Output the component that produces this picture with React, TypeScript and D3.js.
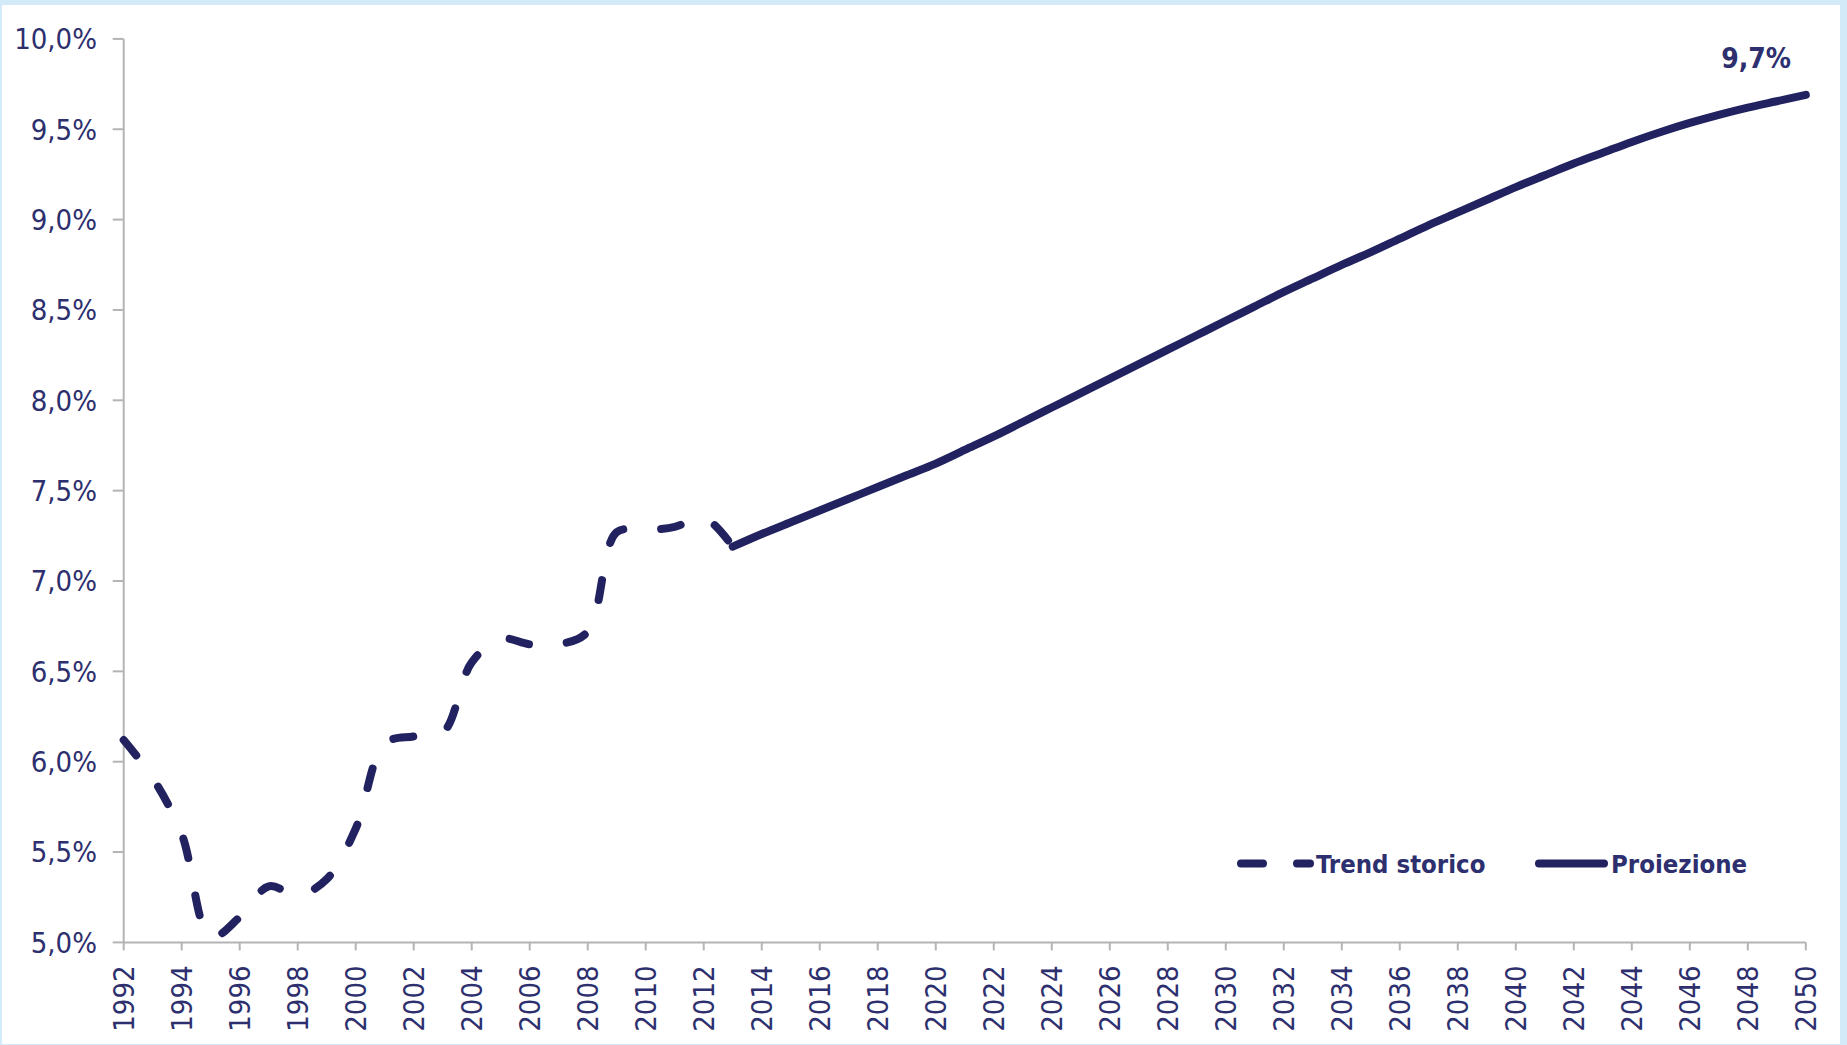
import React from "react";
import * as d3 from "d3";

const histYears = [1992,1993,1994,1995,1996,1997,1998,1999,2000,2001,2002,2003,2004,2005,2006,2007,2008,2009,2010,2011,2012,2013];
const histValues = [6.12,5.91,5.60,5.03,5.14,5.31,5.26,5.35,5.63,6.10,6.14,6.16,6.55,6.68,6.65,6.65,6.72,7.27,7.28,7.30,7.35,7.19];

const projYears = [2013,2014,2015,2016,2017,2018,2019,2020,2021,2022,2023,2024,2025,2026,2027,2028,2029,2030,2031,2032,2033,2034,2035,2036,2037,2038,2039,2040,2041,2042,2043,2044,2045,2046,2047,2048,2049,2050];
const projValues = [7.19,7.26,7.325,7.39,7.455,7.52,7.585,7.65,7.725,7.80,7.88,7.96,8.04,8.12,8.20,8.28,8.36,8.44,8.52,8.60,8.675,8.75,8.82,8.895,8.97,9.04,9.11,9.18,9.245,9.31,9.37,9.43,9.485,9.535,9.58,9.62,9.655,9.69];

const yTicks = [5.0,5.5,6.0,6.5,7.0,7.5,8.0,8.5,9.0,9.5,10.0];
const xTicks = d3.range(1992, 2051, 2);
const legendLabels = ["Trend storico", "Proiezione"];
const endLabel = "9,7%";

const W = 1847, H = 1045;
const FONT = "'DejaVu Sans Condensed', 'DejaVu Sans', sans-serif";
const TEXT = "#2d2f6e";
const LINE = "#21225f";
const AXIS = "#b4b4b4";

export default function App() {
  const x = d3.scaleLinear().domain([1992, 2050]).range([123.7, 1805.8]);
  const y = d3.scaleLinear().domain([5, 10]).range([942.4, 38.9]);
  const line = d3.line<[number, number]>()
    .x(d => x(d[0])).y(d => y(d[1]))
    .curve(d3.curveCatmullRom.alpha(0.5));
  const hist = line(histYears.map((yr, i) => [yr, histValues[i]]) as [number, number][]) || "";
  const proj = line(projYears.map((yr, i) => [yr, projValues[i]]) as [number, number][]) || "";
  const fmt = (v: number) => v.toFixed(1).replace(".", ",") + "%";

  return (
    <svg width={W} height={H} style={{ position: "absolute", left: 0, top: 0 }} fontFamily={FONT}>
      <rect x={0} y={0} width={W} height={H} fill="#d3eaf9" />
      <rect x={2} y={5} width={1838} height={H - 6} fill="#ffffff" />
      {/* y axis */}
      <line x1={x(1992)} x2={x(1992)} y1={y(10)} y2={y(5)} stroke={AXIS} strokeWidth={2} />
      {yTicks.map(t => (
        <g key={t}>
          <line x1={x(1992) - 11} x2={x(1992)} y1={y(t)} y2={y(t)} stroke={AXIS} strokeWidth={2} />
          <text x={97} y={y(t)} dy="0.36em" textAnchor="end" fontSize={29} fill={TEXT}>{fmt(t)}</text>
        </g>
      ))}
      {/* x axis */}
      <line x1={x(1992)} x2={x(2050)} y1={y(5)} y2={y(5)} stroke={AXIS} strokeWidth={2} />
      {xTicks.map(t => (
        <g key={t}>
          <line x1={x(t)} x2={x(t)} y1={y(5)} y2={y(5) + 8} stroke={AXIS} strokeWidth={2} />
          <text transform={`translate(${x(t)},${y(5) + 23}) rotate(-90)`} dy="0.36em" textAnchor="end" fontSize={29} fill={TEXT}>{t}</text>
        </g>
      ))}
      {/* series */}
      <path d={hist} fill="none" stroke={LINE} strokeWidth={8} strokeDasharray="20,38" strokeLinecap="round" strokeLinejoin="round" />
      <path d={proj} fill="none" stroke={LINE} strokeWidth={8} strokeLinecap="round" strokeLinejoin="round" />
      <text x={1791} y={y(9.7) - 25} textAnchor="end" fontSize={28} fontWeight="bold" fill={TEXT}>{endLabel}</text>
      {/* legend */}
      <line x1={1241} x2={1310} y1={863.5} y2={863.5} stroke={LINE} strokeWidth={8} strokeDasharray="22,34" strokeLinecap="round" />
      <text x={1316} y={863.5} dy="0.36em" fontSize={25.5} fontWeight="bold" fill={TEXT}>{legendLabels[0]}</text>
      <line x1={1539} x2={1604} y1={863.5} y2={863.5} stroke={LINE} strokeWidth={8} strokeLinecap="round" />
      <text x={1611} y={863.5} dy="0.36em" fontSize={25.5} fontWeight="bold" fill={TEXT}>{legendLabels[1]}</text>
    </svg>
  );
}
